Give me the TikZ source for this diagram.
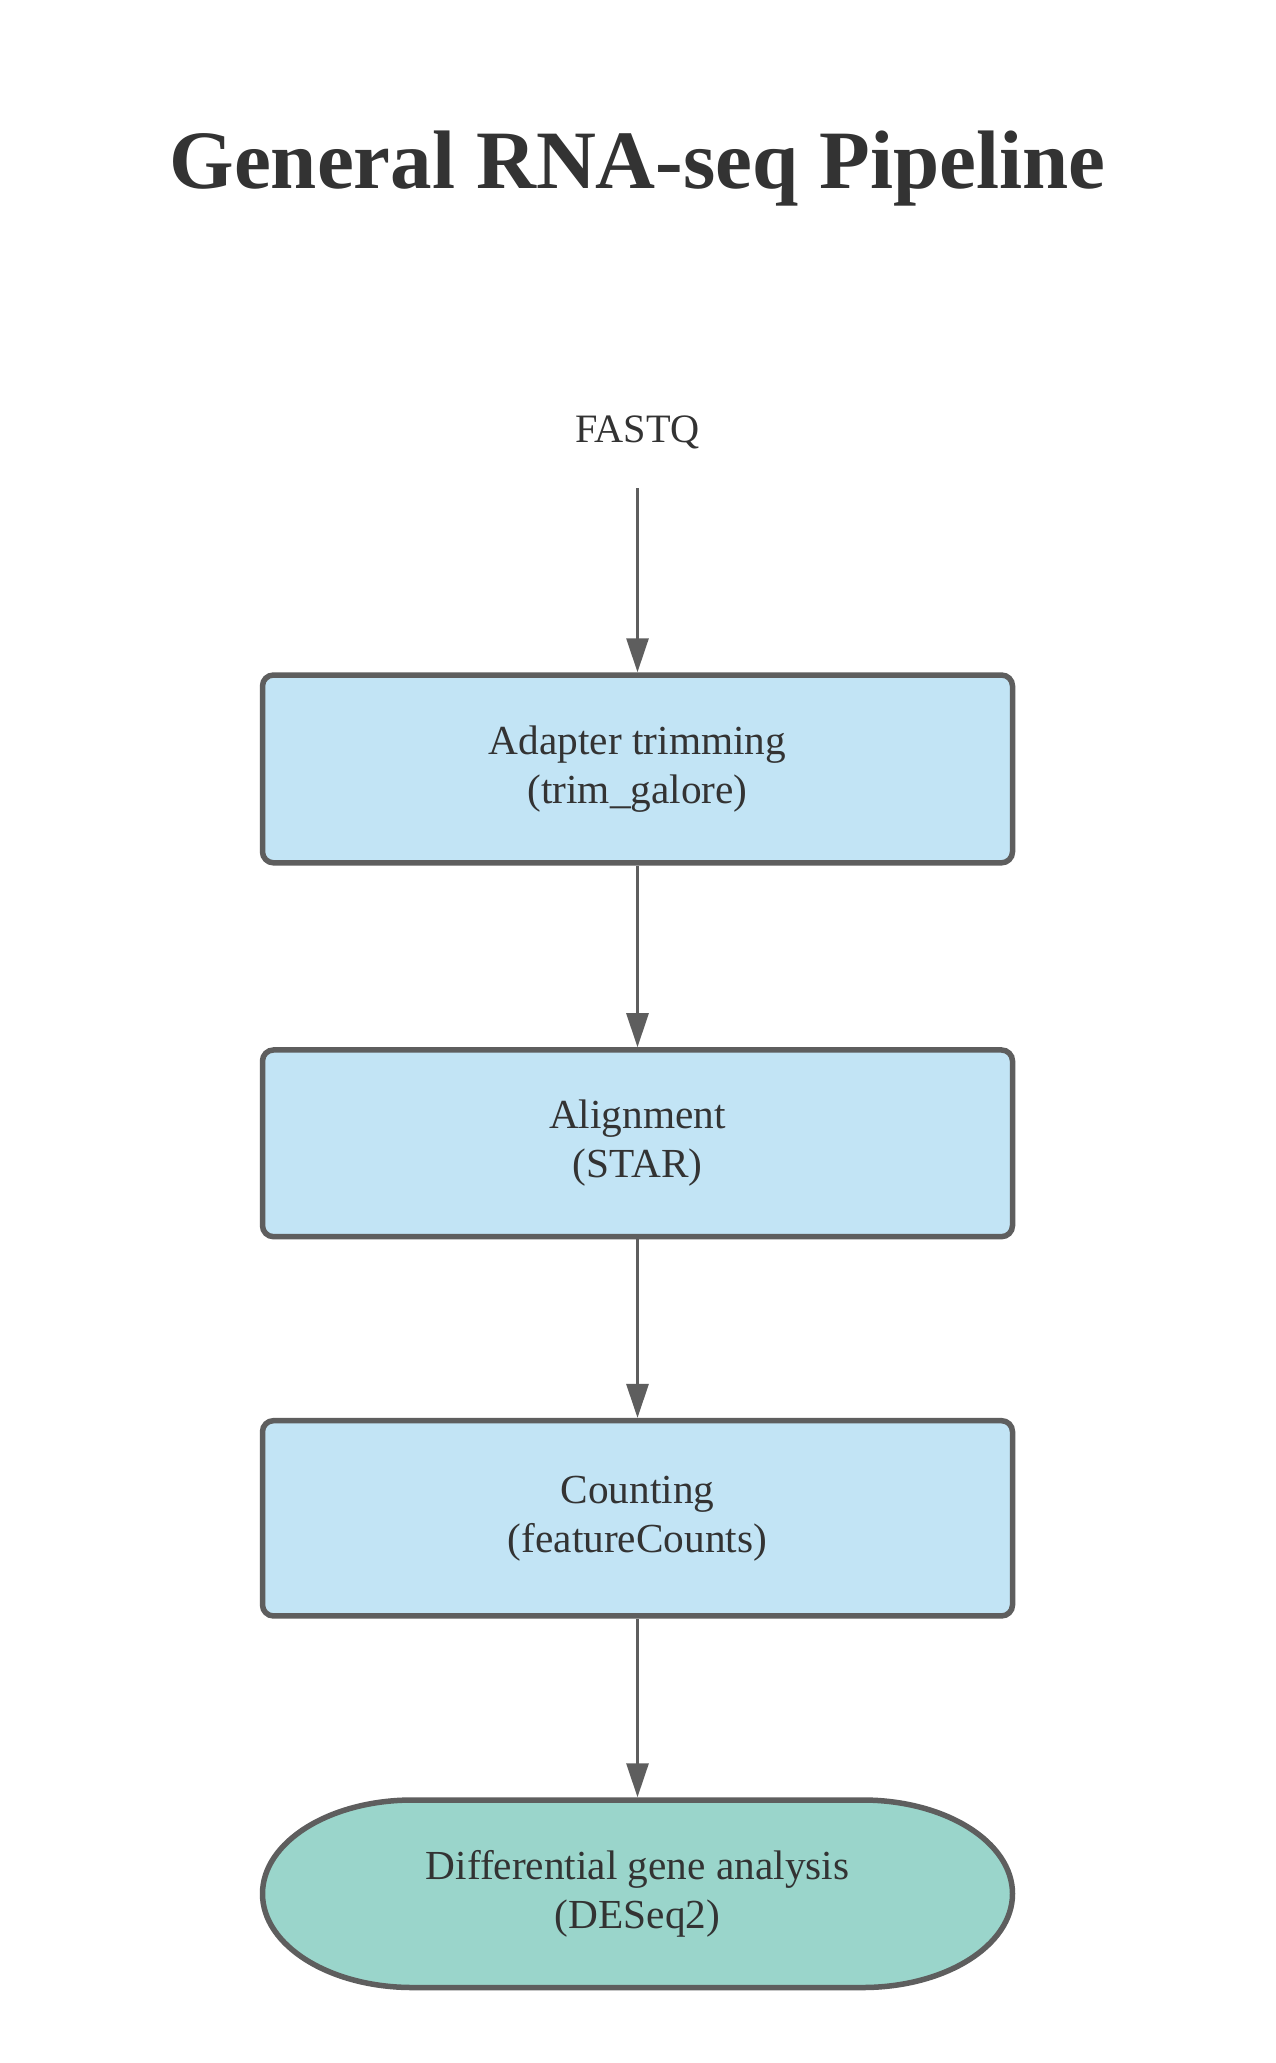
\documentclass[tikz,border=0pt]{standalone}
\usepackage{fontspec}
\setmainfont{Liberation Serif}
\usetikzlibrary{arrows.meta}
\definecolor{boxfill}{HTML}{C2E4F5}
\definecolor{endfill}{HTML}{9AD5CB}
\definecolor{edge}{HTML}{5E5E5E}
\definecolor{txt}{HTML}{333333}
\begin{document}
\begin{tikzpicture}[x=1pt,y=-1pt,
  stepbox/.style={draw=edge, fill=boxfill, line width=5.5pt, rounded corners=11pt,
    minimum width=750pt, align=center, text=txt, font=\fontsize{41.3}{49}\selectfont, inner sep=0pt},
  endbox/.style={draw=none, minimum width=750pt, minimum height=187.5pt, align=center,
    text=txt, font=\fontsize{41.3}{49}\selectfont, inner sep=0pt, outer sep=2.75pt},
  flow/.style={draw=edge, line width=3pt, -{Triangle[length=34pt,width=22pt]}}]
\useasboundingbox[fill=white] (0,0) rectangle (1275,2063);

\node[anchor=base, text=txt, font=\fontsize{83}{96}\selectfont\bfseries] (title) at (637.5,189) {General RNA-seq Pipeline};

\node[anchor=base, text=txt, font=\fontsize{40.3}{48}\selectfont] (fastq) at (637.5,442) {FASTQ};
\coordinate (fastqout) at (637.5,488);

\node[stepbox, minimum height=187.8pt] (trim) at (637.5,768.9) {Adapter trimming\\(trim\_galore)};
\node[stepbox, minimum height=186.7pt] (align) at (637.5,1143.3) {Alignment\\(STAR)};
\node[stepbox, minimum height=195.3pt] (count) at (637.5,1518.3) {Counting\\(featureCounts)};

\draw[edge, fill=endfill, line width=5.5pt]
  (412.5,1800) -- (862.5,1800)
  arc[start angle=-90, end angle=90, x radius=150, y radius=93.75]
  -- (412.5,1987.5)
  arc[start angle=90, end angle=270, x radius=150, y radius=93.75]
  -- cycle;
\node[endbox] (dga) at (637.5,1893.75) {Differential gene analysis\\(DESeq2)};

\draw[flow] (fastqout) -- (trim.north);
\draw[flow] (trim.south) -- (align.north);
\draw[flow] (align.south) -- (count.north);
\draw[flow] (count.south) -- (dga.north);
\end{tikzpicture}
\end{document}
